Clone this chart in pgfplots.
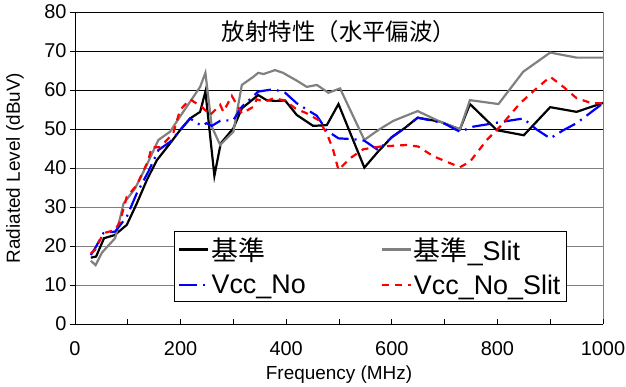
\documentclass[border=0pt]{standalone}
\usepackage{fontspec}
\setmainfont{Liberation Sans}
\newfontfamily\cjk{Noto Sans CJK JP}
\usepackage{pgfplots}
\pgfplotsset{compat=1.18}
\definecolor{sgray}{RGB}{128,128,128}
\begin{document}
\begin{tikzpicture}
\path[use as bounding box] (-75bp,-63bp) rectangle (551bp,324bp);
\begin{axis}[
  at={(0,0)}, anchor=south west,
  width=528bp, height=312bp, scale only axis,
  xmin=0, xmax=1000, ymin=0, ymax=80,
  axis x line*=bottom, axis y line*=left,
  axis line style={black, line width=1pt},
  xtick={0,200,...,1000}, minor xtick={100,300,...,900},
  ytick={0,10,...,40},
  extra y ticks={50,60,70,80},
  extra y tick style={grid=major, major grid style={black, line width=0.8pt}},
  extra x ticks={1000}, extra x tick labels={},
  extra x tick style={grid=major, major grid style={sgray, line width=1pt}},
  ymajorgrids, major grid style={sgray, line width=0.8pt},
  xtick align=inside, ytick align=outside,
  major tick length=5bp, minor tick length=5bp,
  tick style={black, line width=0.8pt},
  /pgf/number format/assume math mode=true,
  /pgf/number format/1000 sep={},
  tick label style={font=\fontsize{20}{24}\selectfont},
  xticklabel style={yshift=-14bp},
  xlabel={Frequency (MHz)}, ylabel={Radiated Level (dBuV)},
  label style={font=\fontsize{19}{22}\selectfont},
  x label style={at={(axis description cs:0.5,-0.163)}, anchor=center},
  y label style={at={(axis description cs:-0.1136,0.5)}, anchor=center},
  legend columns=2, legend cell align=left,
  legend image code/.code={\draw[#1] (0bp,0bp) -- (29bp,0bp);},
  legend style={at={(axis description cs:0.1875,0.298)}, anchor=north west,
    draw=black, line width=0.8pt, fill=white,
    font=\fontsize{27}{30}\selectfont, inner xsep=4bp, inner ysep=4bp,
    /tikz/row sep=9bp,
    /tikz/column 2/.style={column sep=73bp}},
]
\node[font=\fontsize{23.5}{27}\selectfont\cjk] at (axis description cs:0.5,0.936) {放射特性（水平偏波）};
\addplot[black, line width=2.2bp] coordinates {
(30,17.0) (40,17.3) (55,22.0) (75,22.8) (98,25.4) (117,30.9) (136,36.9) (155,42.0)
(180,46.3) (199,49.7) (218,52.7) (237,54.4) (247,59.6) (264,38.0) (276,46.3) (300,50.2)
(316,55.3) (347,58.7) (363,57.4) (379,57.2) (398,57.3) (420,53.6) (451,50.8) (477,51.0)
(499,56.4) (548,40.1) (574,44.2) (600,47.9) (625,50.3) (649,52.9) (691,51.9) (729,49.9)
(748,56.4) (799,49.7) (850,48.4) (900,55.6) (950,54.4) (1000,56.7)};
\addlegendentry{{\cjk 基準}}
\addplot[sgray, line width=2.2bp] coordinates {
(30,16.2) (39,15.1) (51,18.3) (76,22.0) (92,30.9) (114,34.8) (136,40.8) (158,47.2)
(180,49.3) (199,53.2) (218,57.0) (237,60.8) (247,64.4) (259,50.6) (275,45.9) (300,49.3)
(316,61.3) (338,63.4) (347,64.4) (357,64.1) (379,65.1) (394,64.4) (420,62.4) (439,60.8)
(458,61.3) (480,59.3) (502,60.4) (548,47.2) (574,49.7) (603,52.1) (649,54.6) (691,51.9)
(729,49.9) (748,57.4) (802,56.4) (849,64.7) (900,69.6) (950,68.3) (1000,68.3)};
\addlegendentry{{\cjk 基準}\_Slit}
\addplot[blue, line width=2.2bp, dash pattern=on 18bp off 6bp on 2bp off 6bp] coordinates {
(30,17.7) (38,19.4) (54,23.3) (76,23.7) (98,27.5) (117,33.5) (139,39.1) (158,44.6)
(180,46.7) (199,49.7) (218,52.7) (240,50.8) (249,51.5) (259,50.8) (275,52.1) (300,52.3)
(316,55.7) (347,59.6) (376,60.2) (398,59.3) (420,56.6) (458,53.4) (477,49.6) (499,47.6)
(527,47.4) (548,47.0) (574,44.6) (600,47.9) (625,50.3) (649,52.9) (698,51.5) (729,49.3)
(754,50.6) (830,52.3) (849,52.7) (874,49.9) (900,47.6) (925,49.7) (950,51.5) (1000,56.6)};
\addlegendentry{Vcc\_No}
\addplot[red, line width=2.2bp, dash pattern=on 7bp off 6bp] coordinates {
(30,18.1) (38,19.0) (54,23.3) (76,24.1) (85,26.2) (98,32.6) (117,35.6) (139,42.0)
(145,45.3) (161,45.3) (186,48.9) (199,54.9) (218,57.6) (240,55.7) (256,53.6) (275,56.2)
(281,54.4) (297,58.5) (316,54.0) (338,55.7) (344,57.6) (360,57.0) (376,57.9) (398,57.3)
(417,55.3) (439,54.0) (461,52.3) (477,48.9) (489,44.6) (499,39.5) (521,42.5) (546,44.8)
(578,45.5) (628,45.9) (650,45.5) (679,43.0) (729,40.2) (748,41.6) (780,47.2) (805,50.6)
(843,56.6) (874,60.4) (900,63.4) (925,60.8) (950,57.9) (979,56.6) (1000,56.6)};
\addlegendentry{Vcc\_No\_Slit}
\end{axis}
\end{tikzpicture}
\end{document}
